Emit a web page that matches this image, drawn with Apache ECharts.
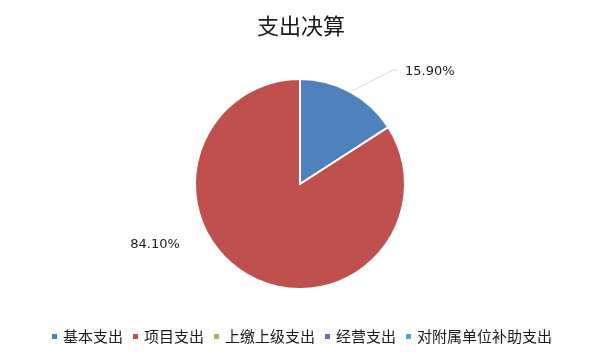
<!DOCTYPE html>
<html>
<head>
<meta charset="utf-8">
<script src="https://cdn.jsdelivr.net/npm/echarts@6/dist/echarts.min.js"></script>
<style>
html,body{margin:0;padding:0;background:#fff;}
#main{width:602px;height:362px;}
</style>
</head>
<body>
<div id="main"></div>
<script>
var titleText = '支出决算';
var categories = ['基本支出', '项目支出', '上缴上级支出', '经营支出', '对附属单位补助支出'];
var values = [15.90, 84.10, 0, 0, 0];
var colors = ['#4F81BD', '#C0504D', '#9BBB59', '#8064A2', '#4BACC6'];

var data = categories.map(function (c, i) {
  var item = { name: c, value: values[i] };
  if (values[i] === 0) {
    item.label = { show: false };
    item.labelLine = { show: false };
  }
  return item;
});

var chart = echarts.init(document.getElementById('main'));
chart.setOption({
  backgroundColor: '#fff',
  animation: false,
  color: colors,
  title: {
    text: titleText,
    left: 'center',
    top: 10,
    textStyle: { fontSize: 22, fontWeight: 'normal', color: '#1a1a1a', fontFamily: 'Noto Sans CJK SC' }
  },
  legend: {
    bottom: 13,
    left: 'center',
    icon: 'rect',
    itemWidth: 7,
    itemHeight: 7,
    itemGap: 8,
    textStyle: { fontSize: 15, color: '#1a1a1a', fontFamily: 'Noto Sans CJK SC' },
    data: categories
  },
  series: [{
    type: 'pie',
    center: [300, 184],
    radius: 105,
    startAngle: 90,
    clockwise: true,
    stillShowZeroSum: false,
    itemStyle: { borderColor: '#fff', borderWidth: 2 },
    label: {
      show: true,
      formatter: function (p) { return p.value.toFixed(2) + '%'; },
      fontSize: 13,
      color: '#1a1a1a',
      fontFamily: 'DejaVu Sans'
    },
    labelLine: { show: true, lineStyle: { color: '#d9d9d9', width: 1 } },
    labelLayout: function (p) {
      if (p.dataIndex === 0) {
        var p0 = p.labelLinePoints ? p.labelLinePoints[0] : [350, 90];
        return { x: 405, y: 72, align: 'left', verticalAlign: 'middle',
          labelLinePoints: [p0, [393, 70], [398, 70]] };
      }
      if (p.dataIndex === 1) {
        return { x: 155, y: 245, align: 'center', verticalAlign: 'middle',
          labelLinePoints: [[155, 245], [155, 245], [155, 245]] };
      }
    },
    data: data
  }]
});
</script>
</body>
</html>
